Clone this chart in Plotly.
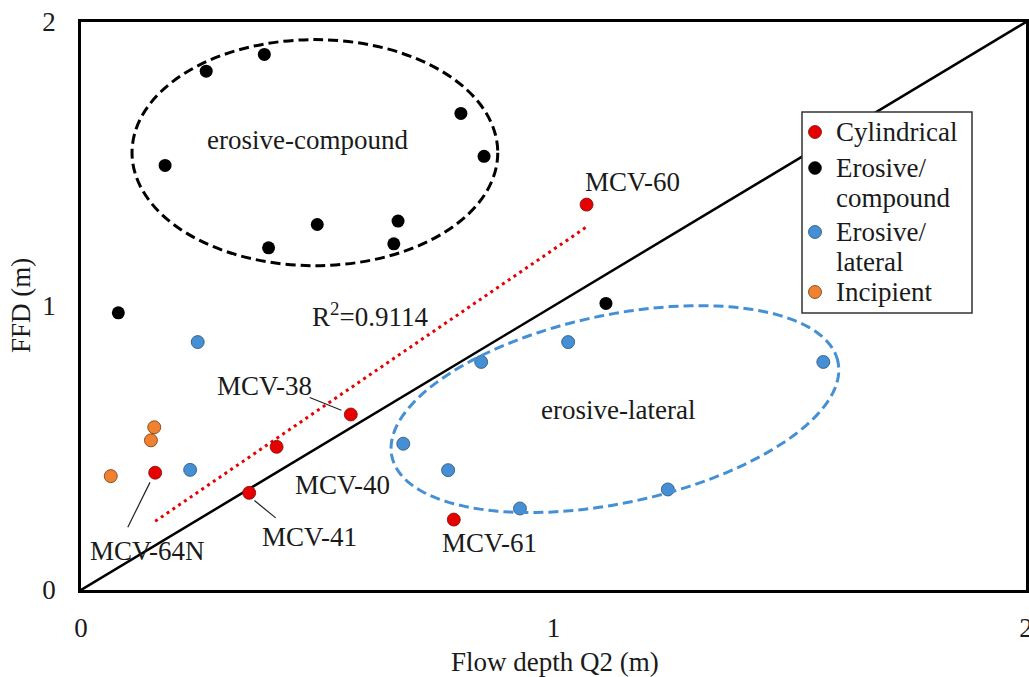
import numpy as np
import plotly.graph_objects as go

FONT = "Liberation Serif"

# ---------------- data ----------------
cyl_x = [1.070, 0.571, 0.414, 0.157, 0.356, 0.789]
cyl_y = [1.357, 0.618, 0.504, 0.413, 0.342, 0.248]
cyl_names = ["MCV-60", "MCV-38", "MCV-40", "MCV-64N", "MCV-41", "MCV-61"]

comp_x = [0.265, 0.388, 0.804, 0.853, 0.178, 0.500, 0.671, 0.662, 0.397, 0.079, 1.111]
comp_y = [1.827, 1.886, 1.678, 1.527, 1.495, 1.287, 1.299, 1.219, 1.205, 0.976, 1.009]

lat_x = [0.247, 0.231, 0.682, 0.777, 0.847, 1.031, 1.571, 1.242, 0.929]
lat_y = [0.873, 0.423, 0.515, 0.422, 0.803, 0.873, 0.803, 0.354, 0.287]

inc_x = [0.155, 0.148, 0.063]
inc_y = [0.573, 0.527, 0.401]

legend_labels = ["Cylindrical", "Erosive/<br>compound", "Erosive/<br>lateral", "Incipient"]
r2_text = "R<sup>2</sup>=0.9114"

# ---------------- colours ----------------
RED = "#e60000"
BLACK = "#000000"
BLUE = "#4590d4"
ORANGE = "#ef8130"
TXT = "#1a1a1a"

fig = go.Figure()

# 1:1 line
fig.add_trace(go.Scatter(x=[0, 2], y=[0, 2], mode="lines",
                         line=dict(color="black", width=2.5),
                         showlegend=False, hoverinfo="skip"))

# trend line of cylindrical (excluding MCV-61)
fit_x = np.array(cyl_x[:5])
fit_y = np.array(cyl_y[:5])
k, b0 = np.polyfit(fit_x, fit_y, 1)
tx = np.array([fit_x.min(), fit_x.max()])
fig.add_trace(go.Scatter(x=tx, y=k * tx + b0, mode="lines",
                         line=dict(color=RED, width=3, dash="3px,4px"),
                         showlegend=False, hoverinfo="skip"))

mk = dict(size=13)
series = [
    (cyl_x, cyl_y, RED, "#7a1010", 0.8),
    (comp_x, comp_y, BLACK, BLACK, 0),
    (lat_x, lat_y, BLUE, "#2f4f6f", 0.8),
    (inc_x, inc_y, ORANGE, "#6b3a10", 0.8),
]
for (sx, sy, col, lc, lw), name in zip(series, legend_labels):
    fig.add_trace(go.Scatter(x=sx, y=sy, mode="markers", name=name.replace("<br>", " "),
                             showlegend=False,
                             marker=dict(color=col, line=dict(color=lc, width=lw), **mk)))

# ---------------- helpers for pixel -> paper ----------------
L, R, T, B = 81, 3, 22, 87
W, H = 1029, 677
PW, PH = W - L - R, H - T - B
def px(xp):
    return (xp - L) / PW
def py(yp):
    return (H - B - yp) / PH

PXX = PW / 2.0  # px per unit x
PXY = PH / 2.0  # px per unit y

shapes = []
# black (erosive-compound)
shapes.append(dict(type="circle", xref="x", yref="y", x0=0.108, x1=0.882, y0=1.142, y1=1.938,
                   line=dict(color="black", width=3, dash="10px,5px")))
# blue rotated ellipse (erosive-lateral)
cx, cy, a, bb, phi = 1.130, 0.637, 228.0, 94.0, np.deg2rad(12)
t = np.linspace(0, 2 * np.pi, 200)
ex = cx + (a * np.cos(t) * np.cos(phi) - bb * np.sin(t) * np.sin(phi)) / PXX
ey = cy + (a * np.cos(t) * np.sin(phi) + bb * np.sin(t) * np.cos(phi)) / PXY
path = "M " + " L ".join(f"{x:.4f},{y:.4f}" for x, y in zip(ex, ey)) + " Z"
shapes.append(dict(type="path", xref="x", yref="y", path=path,
                   line=dict(color=BLUE, width=3, dash="10px,5px")))

# leader lines
leaders = [((0.484, 0.678), (0.551, 0.633)),
           ((0.367, 0.315), (0.412, 0.254)),
           ((0.146, 0.379), (0.099, 0.221))]
for (x0, y0), (x1, y1) in leaders:
    shapes.append(dict(type="line", xref="x", yref="y", x0=x0, y0=y0, x1=x1, y1=y1,
                       line=dict(color="#222", width=1.2)))

# ---------------- annotations ----------------
tf = dict(family=FONT, size=27, color=TXT)
ann = []
def add(text, x, y, xanchor="left"):
    ann.append(dict(text=text, x=x, y=y, xref="x", yref="y", showarrow=False,
                    xanchor=xanchor, yanchor="middle", font=tf))
add("erosive-compound", 0.480, 1.586, "center")
add("erosive-lateral", 1.136, 0.633, "center")
add(r2_text, 0.612, 0.970, "center")
add("MCV-60", 1.062, 1.438)
add("MCV-38", 0.284, 0.720)
add("MCV-40", 0.449, 0.368)
add("MCV-41", 0.379, 0.188)
add("MCV-61", 0.760, 0.164)
add("MCV-64N", 0.015, 0.136)

# axis titles
ann.append(dict(text="Flow depth Q2 (m)", x=px(555), y=py(662), xref="paper", yref="paper",
                showarrow=False, xanchor="center", yanchor="middle", font=tf))
ann.append(dict(text="FFD (m)", x=px(21), y=py(306), xref="paper", yref="paper",
                showarrow=False, xanchor="center", yanchor="middle", textangle=-90, font=tf))

# ---------------- manual legend ----------------
shapes.append(dict(type="rect", xref="paper", yref="paper",
                   x0=px(802), x1=px(972), y0=py(313), y1=py(112),
                   line=dict(color="#333", width=1.5), fillcolor="white", layer="above"))
leg_marker_y = [132, 168, 232, 292]
leg_lines = [[(132, "Cylindrical")], [(168, "Erosive/"), (198, "compound")],
             [(232, "Erosive/"), (262, "lateral")], [(292, "Incipient")]]
for (sx, sy, col, lc, lw), my, lines in zip(series, leg_marker_y, leg_lines):
    shapes.append(dict(type="circle", xref="paper", yref="paper",
                       xsizemode="pixel", ysizemode="pixel",
                       xanchor=px(815), yanchor=py(my),
                       x0=-6.5, x1=6.5, y0=-6.5, y1=6.5,
                       fillcolor=col, line=dict(color=lc if lw else col, width=max(lw, 0.5)),
                       layer="above"))
    for ly, txt in lines:
        ann.append(dict(text=txt, x=px(834), y=py(ly), xref="paper", yref="paper",
                        showarrow=False, xanchor="left", yanchor="middle", font=tf))

axis_common = dict(range=[0, 2], tickvals=[0, 1, 2], showgrid=False, zeroline=False,
                   showline=True, linecolor="black", linewidth=2.5, mirror=True,
                   ticks="", tickfont=dict(family=FONT, size=27, color=TXT),
                   automargin=False, ticklabeloverflow="allow", fixedrange=True)

fig.update_layout(
    width=W, height=H,
    margin=dict(l=L, r=R, t=T, b=B),
    paper_bgcolor="white", plot_bgcolor="white",
    xaxis=dict(**axis_common, ticklabelstandoff=12),
    yaxis=dict(**axis_common, ticklabelstandoff=17),
    shapes=shapes,
    annotations=ann,
    showlegend=False,
)

fig.write_html("out.html", config={"displayModeBar": False},
               post_script="document.body.style.margin='0';document.body.style.overflow='hidden';")
